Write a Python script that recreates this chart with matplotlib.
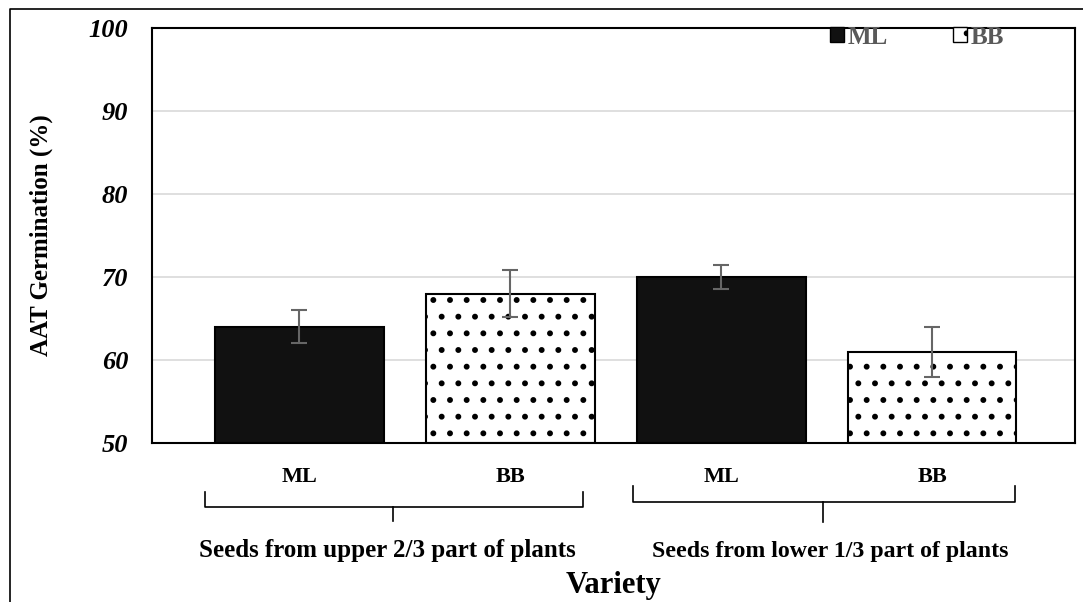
import numpy as np
import matplotlib.pyplot as plt
from matplotlib.lines import Line2D
from matplotlib.patches import Rectangle

plt.rcParams['font.family'] = ['Liberation Serif', 'DejaVu Serif']
plt.rcParams['hatch.linewidth'] = 1.8

# Data
varieties = ['ML', 'BB', 'ML', 'BB']
germination = [64, 68, 70, 61]
errors = [2.0, 2.8, 1.5, 3.0]
groups = ['Seeds from upper 2/3 part of plants', 'Seeds from lower 1/3 part of plants']
yticks = [50, 60, 70, 80, 90, 100]

W, H = 1083, 602
fig = plt.figure(figsize=(W / 100, H / 100), dpi=100)
ax = fig.add_axes([152 / W, 1 - 443 / H, (1075 - 152) / W, (443 - 28) / H])

x = np.arange(len(varieties))
fills = ['#111111', 'white', '#111111', 'white']
hatches = [None, '.', None, '.']
for xi, val, fc, ht in zip(x, germination, fills, hatches):
    ax.bar(xi, val - 50, bottom=50, width=0.8, color=fc, edgecolor='black',
           linewidth=1.5, hatch=ht, zorder=2)
ax.errorbar(x, germination, yerr=errors, fmt='none', ecolor='#666666',
            elinewidth=1.5, capsize=6, capthick=1.5, zorder=3)

ax.set_xlim(-0.699, 3.678)
ax.set_ylim(50, 100)
ax.set_yticks(yticks)
ax.set_yticklabels([str(t) for t in yticks], fontsize=19, fontweight='bold',
                   fontstyle='italic')
ax.tick_params(axis='y', length=0, pad=17)
ax.set_xticks(x)
ax.set_xticklabels(varieties, fontsize=16, fontweight='bold')
ax.tick_params(axis='x', length=0, pad=17)
ax.grid(axis='y', color='#d9d9d9', linewidth=1.2, zorder=0)
for s in ax.spines.values():
    s.set_linewidth(1.5)
ax.set_ylabel('AAT Germination (%)', fontsize=18, fontweight='bold', labelpad=26)

# legend
handles = [Rectangle((0, 0), 1, 1, facecolor='#111111', edgecolor='black'),
           Rectangle((0, 0), 1, 1, facecolor='white', edgecolor='black', hatch='.')]
leg = ax.legend(handles, ['ML', 'BB'], loc='center left', ncol=2, frameon=False,
                bbox_to_anchor=(0.7346, 0.978), borderaxespad=0, borderpad=0,
                handlelength=0.55, handleheight=0.55,
                handletextpad=0.15, columnspacing=2.6,
                prop={'size': 18, 'weight': 'bold'})
for t in leg.get_texts():
    t.set_color('#595959')

# braces below the axis
def brace(x0, x1, xm, y0, y1, y2):
    fig.add_artist(Line2D([x0 / W, x0 / W, x1 / W, x1 / W],
                          [1 - y0 / H, 1 - y1 / H, 1 - y1 / H, 1 - y0 / H],
                          color='black', linewidth=1.2))
    fig.add_artist(Line2D([xm / W, xm / W], [1 - y1 / H, 1 - y2 / H],
                          color='black', linewidth=1.2))

brace(205, 583, 393, 492, 507, 521)
brace(633, 1015, 823, 486, 502, 522)

fig.text(387 / W, 1 - 551 / H, groups[0], ha='center', va='center',
         fontsize=18, fontweight='bold')
fig.text(830 / W, 1 - 551 / H, groups[1], ha='center', va='center',
         fontsize=17.2, fontweight='bold')
fig.text(613 / W, 1 - 586 / H, 'Variety', ha='center', va='center',
         fontsize=22, fontweight='bold')

# outer frame (left and top edges visible)
fig.add_artist(Line2D([10 / W, 10 / W, 1.0], [0, 1 - 9 / H, 1 - 9 / H],
                      color='black', linewidth=1.2))

fig.savefig('out.png', dpi=100)
